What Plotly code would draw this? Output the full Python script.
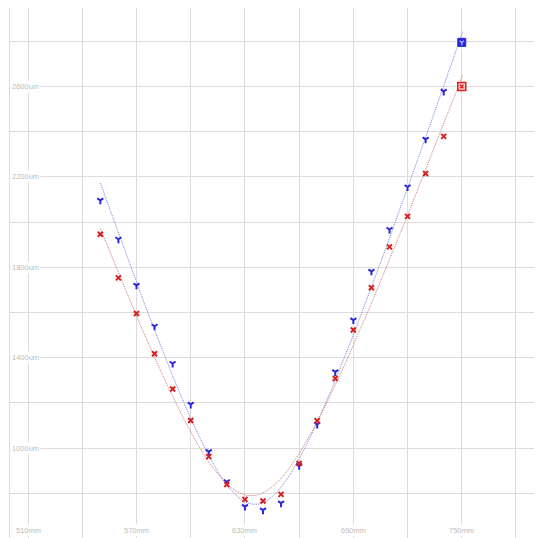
import numpy as np
import plotly.graph_objects as go

# ---- data ----
positions = [550, 560, 570, 580, 590, 600, 610, 620, 630, 640, 650,
             660, 670, 680, 690, 700, 710, 720, 730, 740, 750]
blue_hfd = [2096, 1924, 1720, 1539, 1374, 1193, 984, 851, 741, 725, 756,
            922, 1104, 1337, 1566, 1782, 1967, 2155, 2366, 2578, 2795]
red_hfd = [1946, 1753, 1595, 1417, 1261, 1122, 962, 839, 773, 766, 795,
           932, 1121, 1308, 1522, 1709, 1890, 2025, 2215, 2379, 2600]

x_tick_vals = [510, 570, 630, 690, 750]
x_tick_text = ["510mm", "570mm", "630mm", "690mm", "750mm"]
y_tick_vals = [1000, 1400, 1800, 2200, 2600]
y_tick_text = ["1000um", "1400um", "1800um", "2200um", "2600um"]

BLUE = "#2828d8"
RED = "#d82020"
BLUE_LINE = "#7c7ce0"
RED_LINE = "#d07878"
GRID = "#dcdcdc"
TEXT = "#bdbdbd"
FONT = "Liberation Sans"

BODY = 8  # default page margin around the figure


def hyperbola_fit(x, y):
    # y = A * sqrt(1 + ((x - c) / B)^2), least squares in y
    x = np.asarray(x, float)
    y = np.asarray(y, float)
    best = None
    for c in np.linspace(600, 680, 161):
        for b in np.linspace(5, 120, 231):
            f = np.sqrt(1 + ((x - c) / b) ** 2)
            a = np.dot(f, y) / np.dot(f, f)
            err = np.sum((a * f - y) ** 2)
            if best is None or err < best[0]:
                best = (err, c, b, a)
    _, c, b, a = best
    return lambda xx: a * np.sqrt(1 + ((np.asarray(xx, float) - c) / b) ** 2)


xs = np.linspace(positions[0], positions[-1] + 0.5, 300)
blue_model = hyperbola_fit(positions, blue_hfd)
red_model = hyperbola_fit(positions, red_hfd)

fig = go.Figure()

fig.add_trace(go.Scatter(x=xs, y=blue_model(xs), mode="lines",
                         line=dict(color=BLUE_LINE, width=1, dash="1px,1px"),
                         hoverinfo="skip", showlegend=False))
fig.add_trace(go.Scatter(x=xs, y=red_model(xs), mode="lines",
                         line=dict(color=RED_LINE, width=1, dash="1px,1px"),
                         hoverinfo="skip", showlegend=False))

fig.add_trace(go.Scatter(x=positions, y=blue_hfd, mode="markers",
                         marker=dict(symbol="y-down", size=5, color=BLUE,
                                     line=dict(color=BLUE, width=2)),
                         showlegend=False))
fig.add_trace(go.Scatter(x=positions, y=red_hfd, mode="markers",
                         marker=dict(symbol="x-thin", size=5, color=RED,
                                     line=dict(color=RED, width=2)),
                         showlegend=False))

# highlighted last point of each series
fig.add_trace(go.Scatter(x=[positions[-1]], y=[blue_hfd[-1]], mode="markers",
                         marker=dict(symbol="square", size=8, color=BLUE,
                                     line=dict(color=BLUE, width=1)),
                         showlegend=False))
fig.add_trace(go.Scatter(x=[positions[-1]], y=[blue_hfd[-1]], mode="markers",
                         marker=dict(symbol="y-down", size=3.5, color="#9fa8ff",
                                     line=dict(color="#9fa8ff", width=1.5)),
                         showlegend=False))
fig.add_trace(go.Scatter(x=[positions[-1]], y=[red_hfd[-1]], mode="markers",
                         marker=dict(symbol="square", size=8, color="#f3d0d0",
                                     line=dict(color=RED, width=1.5)),
                         showlegend=False))
fig.add_trace(go.Scatter(x=[positions[-1]], y=[red_hfd[-1]], mode="markers",
                         marker=dict(symbol="x-thin", size=3.5, color=RED,
                                     line=dict(color=RED, width=1.5)),
                         showlegend=False))

annotations = []
for v, t in zip(y_tick_vals, y_tick_text):
    annotations.append(dict(x=0, xref="paper", y=v, yref="y", text=t,
                            showarrow=False, xanchor="left", yanchor="middle",
                            xshift=0, bgcolor="white", borderpad=1,
                            font=dict(family=FONT, size=7.5, color=TEXT)))
for v, t in zip(x_tick_vals, x_tick_text):
    annotations.append(dict(x=v, xref="x", y=0, yref="paper", text=t,
                            showarrow=False, xanchor="center", yanchor="bottom",
                            yshift=1, bgcolor="white", borderpad=1,
                            font=dict(family=FONT, size=7.5, color=TEXT)))

fig.update_layout(
    width=542 - BODY, height=538 - BODY,
    margin=dict(l=10 - BODY, r=0, t=8 - BODY, b=0),
    paper_bgcolor="white", plot_bgcolor="white",
    showlegend=False,
    annotations=annotations,
    xaxis=dict(range=[500, 794.4], tick0=0, dtick=30, showgrid=True,
               gridcolor=GRID, gridwidth=1, zeroline=False,
               showticklabels=False, ticks="",
               showline=True, linecolor=GRID, linewidth=1, mirror=True),
    yaxis=dict(range=[602, 2947], tick0=0, dtick=200, showgrid=True,
               gridcolor=GRID, gridwidth=1, zeroline=False,
               showticklabels=False, ticks="",
               showline=True, linecolor=GRID, linewidth=1, mirror=True),
)

fig.write_html("out.html")
